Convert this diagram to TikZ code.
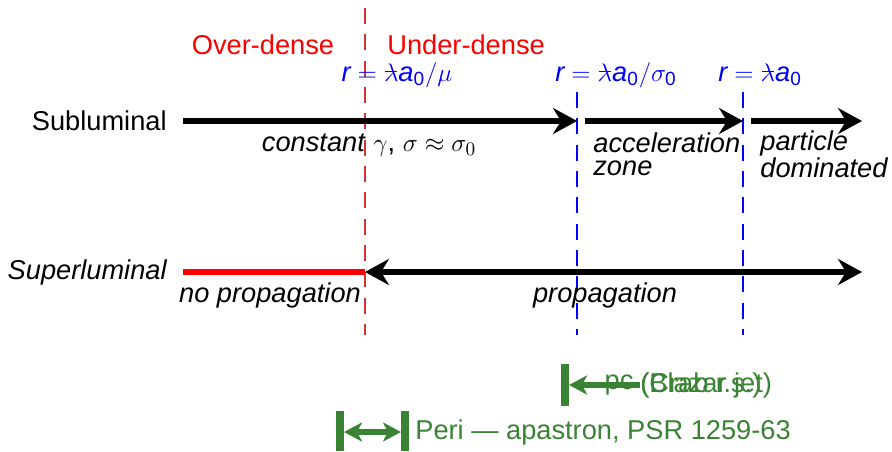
\documentclass[tikz,border=0pt]{standalone}
\usepackage{amsmath}
\usepackage{fontspec}
\setmainfont{Liberation Sans}
\usetikzlibrary{arrows.meta}
\newcommand{\lbar}{{\mkern1mu\rlap{\raisebox{0.62ex}{\rule{0.42em}{0.07ex}}}\mkern-1mu\lambda}}
\definecolor{bargreen}{RGB}{58,130,52}
\definecolor{edgered}{RGB}{210,50,50}

\begin{document}
\begin{tikzpicture}[
    x=0.02cm, y=-0.02cm,
    lbl/.style={font=\fontsize{15.5}{13}\selectfont, inner sep=0pt, align=left},
    zone/.style={lbl, font=\fontsize{15.5}{13}\selectfont\itshape},
    radius/.style={lbl, text=blue},
    regime/.style={lbl, text=red},
    flow/.style={line width=3.4pt, -{Stealth[length=0.48cm, width=0.52cm, inset=0.16cm]}},
    flowboth/.style={line width=3.4pt, {Stealth[length=0.48cm, width=0.52cm, inset=0.16cm]}-{Stealth[length=0.48cm, width=0.52cm, inset=0.16cm]}},
    nogo/.style={line width=3.4pt, red},
    bound/.style={line width=0.7pt, dash pattern=on 9pt off 6pt},
    tickbar/.style={line width=4.6pt, bargreen},
    span/.style={line width=3pt, bargreen, {Stealth[length=0.36cm, width=0.38cm, inset=0.1cm]}-{Stealth[length=0.36cm, width=0.38cm, inset=0.1cm]}},
    spanleft/.style={line width=3pt, bargreen, {Stealth[length=0.36cm, width=0.38cm, inset=0.1cm]}-},
]
    \useasboundingbox (0,0) rectangle (892,451);

    % Row labels
    \node[lbl, anchor=east] (sub) at (167,121) {Subluminal};
    \node[zone, anchor=east] (sup) at (167,272) {Superluminal};

    % Regime boundaries
    \coordinate (rtop) at (365,8);
    \coordinate (rbot) at (365,335);
    \coordinate (btopa) at (577,92);
    \coordinate (bbota) at (577,335);
    \coordinate (btopb) at (743,92);
    \coordinate (bbotb) at (743,335);
    \draw[bound, edgered] (rtop) -- (rbot);
    \draw[bound, blue, line width=0.9pt] (btopa) -- (bbota);
    \draw[bound, blue, line width=0.9pt] (btopb) -- (bbotb);

    \node[regime] (over) at (263,45) {Over-dense};
    \node[regime, anchor=west] (under) at (387,45) {Under-dense};

    \node[radius] (rmu) at (397,75) {$\textit{r} = \lbar \textit{a}_{\text{0}}/\mu$};
    \node[radius] (rsig) at (616,75) {$\textit{r} = \lbar \textit{a}_{\text{0}}/\sigma_{\text{0}}$};
    \node[radius] (rlc) at (760,75) {$\textit{r} = \lbar \textit{a}_{\text{0}}$};

    % Subluminal flow
    \coordinate (sa) at (183,121);
    \coordinate (sb) at (577,121);
    \coordinate (sc) at (585,121);
    \coordinate (sd) at (743,121);
    \coordinate (se) at (751,121);
    \coordinate (sf) at (862,121);
    \draw[flow] (sa) -- (sb);
    \draw[flow] (sc) -- (sd);
    \draw[flow] (se) -- (sf);

    \node[lbl] (const) at (369,145) {\textit{constant} $\gamma$, $\sigma \approx \sigma_0$};
    \node[zone, anchor=west] (accel) at (593,154) {acceleration\\zone};
    \node[zone, anchor=west] (part) at (760,154) {particle\\dominated};

    % Superluminal flow
    \coordinate (pa) at (183,272);
    \coordinate (pb) at (365,272);
    \coordinate (pe) at (862,272);
    \draw[nogo] (pa) -- (pb);
    \draw[flowboth] (pb) -- (pe);

    \node[zone] (noprop) at (270,295) {no propagation};
    \node[zone] (prop) at (605,295) {propagation};

    % Length scales
    \coordinate (ja) at (565,364);
    \coordinate (jb) at (565,406);
    \coordinate (jc) at (569,385);
    \coordinate (jd) at (640,385);
    \draw[tickbar] (ja) -- (jb);
    \draw[spanleft] (jc) -- (jd);
    \node[lbl, text=bargreen] (pcunit) at (619,385) {pc};
    \node[lbl, text=bargreen, anchor=west] (blazar) at (640,385) {(Blazar jet)};
    \node[lbl, text=bargreen, anchor=west] (crab) at (640,385) {(Crab r.s.)};

    \coordinate (ka) at (340,411);
    \coordinate (kb) at (340,451);
    \coordinate (kc) at (405,411);
    \coordinate (kd) at (405,451);
    \coordinate (ke) at (344,432);
    \coordinate (kf) at (401,432);
    \draw[tickbar] (ka) -- (kb);
    \draw[tickbar] (kc) -- (kd);
    \draw[span] (ke) -- (kf);
    \node[lbl, text=bargreen, anchor=west] (peri) at (415,432) {Peri --- apastron, PSR 1259-63};

\end{tikzpicture}
\end{document}
